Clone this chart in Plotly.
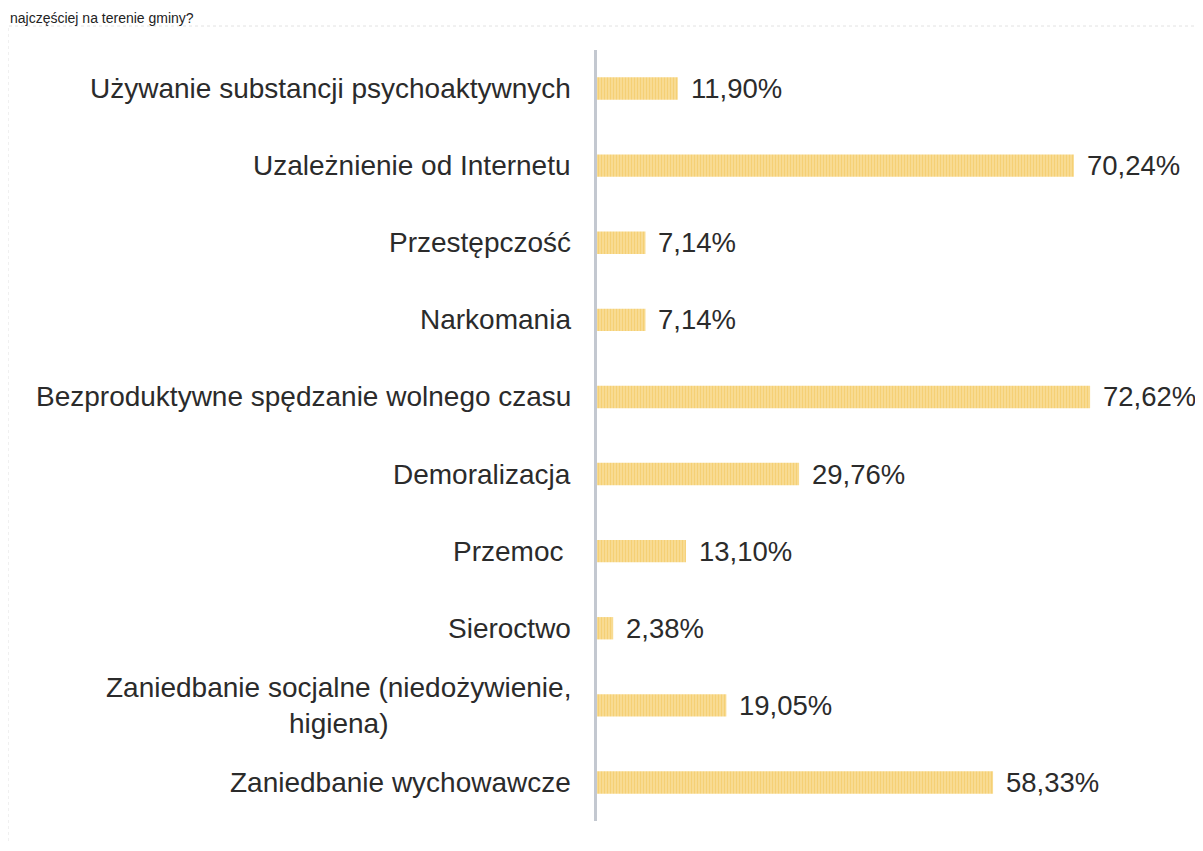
import plotly.graph_objects as go

categories = [
    "Używanie substancji psychoaktywnych",
    "Uzależnienie od Internetu",
    "Przestępczość",
    "Narkomania",
    "Bezproduktywne spędzanie wolnego czasu",
    "Demoralizacja",
    "Przemoc ",
    "Sieroctwo",
    "Zaniedbanie socjalne (niedożywienie,<br>higiena)",
    "Zaniedbanie wychowawcze",
]
values = [11.90, 70.24, 7.14, 7.14, 72.62, 29.76, 13.10, 2.38, 19.05, 58.33]
value_labels = [f"{v:.2f}%".replace(".", ",") for v in values]
header_text = "najczęściej na terenie gminy?"

# the page body adds an 8px margin on every side; size the figure to fit inside
W, H = 1187, 835
L, T, B = 589, 42, 22
pw = 592
R = W - L - pw
ph = H - T - B

def px_x(p):
    return (p - L) / pw

def px_y(p):
    return 1 - (p - T) / ph

FONT = "Liberation Sans, Arial, sans-serif"

fig = go.Figure()
fig.add_trace(go.Bar(
    x=values,
    y=categories,
    orientation="h",
    width=0.29,
    marker=dict(
        color="#F7D57E",
        line=dict(width=0),
        pattern=dict(shape="|", fgcolor="#F2C14E", bgcolor="#F9DF9C", size=3, solidity=0.5),
    ),
    hoverinfo="skip",
))

annotations = []
for c in categories:
    annotations.append(dict(
        x=0, xref="paper", y=c, yref="y",
        text=c.rstrip() + ("\u00a0" if c.endswith(" ") else ""),
        showarrow=False, xanchor="right", yanchor="middle", xshift=-24,
        align="center",
        font=dict(family=FONT, size=28, color="#2b2b2b"),
    ))
for c, v, t in zip(categories, values, value_labels):
    annotations.append(dict(
        x=v, xref="x", y=c, yref="y", text=t, showarrow=False,
        xanchor="left", yanchor="middle", xshift=11,
        font=dict(family=FONT, size=27.5, color="#2b2b2b"),
    ))
annotations.append(dict(
    x=px_x(0), xref="paper", y=px_y(0), yref="paper", text=header_text,
    showarrow=False, xanchor="left", yanchor="top",
    font=dict(family=FONT, size=14, color="#222222"),
))

fig.update_layout(
    width=W, height=H,
    margin=dict(l=L, r=R, t=T, b=B, pad=0),
    paper_bgcolor="white", plot_bgcolor="white",
    showlegend=False,
    xaxis=dict(range=[0, pw / 6.79], visible=False, fixedrange=True),
    yaxis=dict(
        type="category", categoryorder="array", categoryarray=categories,
        range=[len(categories) - 0.5, -0.5],
        showticklabels=False, showgrid=False, zeroline=False,
        showline=True, linecolor="#C3C8D0", linewidth=3, ticks="",
    ),
    annotations=annotations,
    shapes=[dict(
        type="rect", xref="paper", yref="paper",
        x0=px_x(0), x1=px_x(1200), y0=px_y(850), y1=px_y(18),
        line=dict(color="#E2E2E2", width=1, dash="dot"), layer="below",
    )],
)

fig.write_html("out.html")
